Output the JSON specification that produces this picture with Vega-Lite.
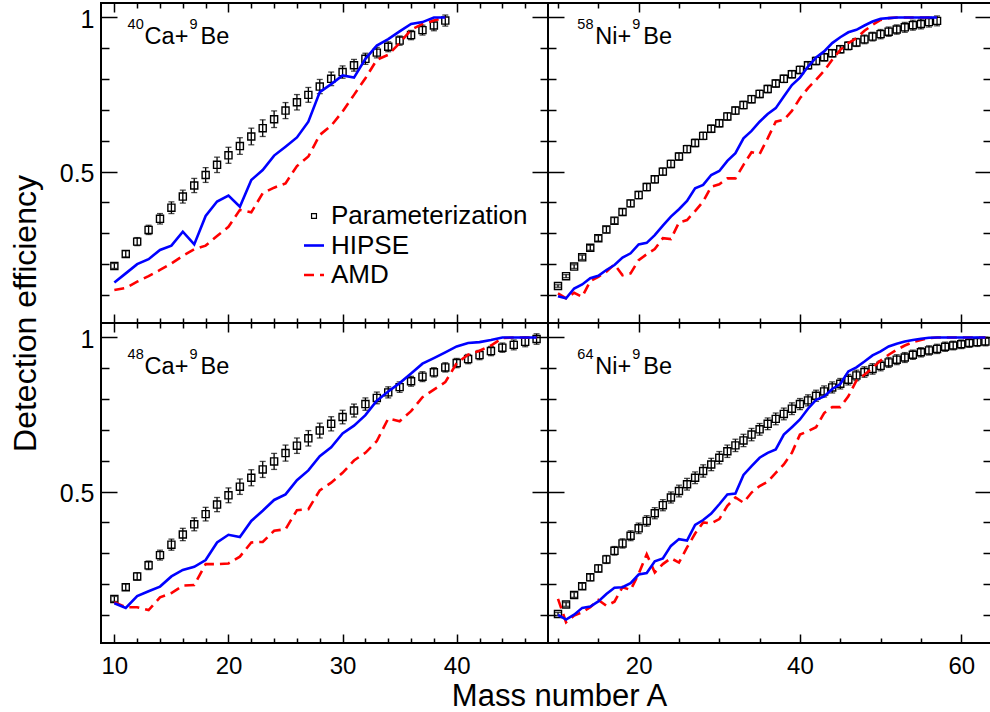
{
  "$schema": "https://vega.github.io/schema/vega-lite/v6.json",
  "background": "white",
  "padding": {"left": 8, "top": 1, "right": 0, "bottom": 0},
  "spacing": 0,
  "bounds": "flush",
  "columns": 2,
  "config": {
    "view": {"stroke": "black", "strokeWidth": 2},
    "axis": {"domain": false, "grid": false, "tickColor": "black", "tickWidth": 1.5, "labelFont": "Liberation Sans", "labelColor": "black", "titleFont": "Liberation Sans", "titleColor": "black", "titleFontWeight": "normal", "labelFlush": false, "labelOverlap": false},
    "legend": {"orient": "none", "padding": 0, "labelFont": "Liberation Sans", "labelFontSize": 26, "labelColor": "black", "labelLimit": 400, "labelOffset": 4, "direction": "vertical"},
    "text": {"font": "Liberation Sans", "color": "black", "align": "left", "baseline": "alphabetic"}
  },
  "datasets": {
    "P40": [
      {"A":10,"eff":0.194,"err":0.008},{"A":11,"eff":0.233,"err":0.010},{"A":12,"eff":0.273,"err":0.013},{"A":13,"eff":0.311,"err":0.015},{"A":14,"eff":0.347,"err":0.017},
      {"A":15,"eff":0.383,"err":0.019},{"A":16,"eff":0.419,"err":0.021},{"A":17,"eff":0.455,"err":0.023},{"A":18,"eff":0.489,"err":0.024},{"A":19,"eff":0.522,"err":0.025},
      {"A":20,"eff":0.553,"err":0.026},{"A":21,"eff":0.583,"err":0.027},{"A":22,"eff":0.614,"err":0.027},{"A":23,"eff":0.641,"err":0.027},{"A":24,"eff":0.670,"err":0.027},
      {"A":25,"eff":0.698,"err":0.026},{"A":26,"eff":0.725,"err":0.025},{"A":27,"eff":0.749,"err":0.024},{"A":28,"eff":0.776,"err":0.023},{"A":29,"eff":0.801,"err":0.022},
      {"A":30,"eff":0.823,"err":0.020},{"A":31,"eff":0.845,"err":0.019},{"A":32,"eff":0.866,"err":0.018},{"A":33,"eff":0.886,"err":0.017},{"A":34,"eff":0.905,"err":0.016},
      {"A":35,"eff":0.925,"err":0.015},{"A":36,"eff":0.943,"err":0.015},{"A":37,"eff":0.959,"err":0.016},{"A":38,"eff":0.974,"err":0.017},{"A":39,"eff":0.990,"err":0.018}
    ],
    "L40": [
      {"A":10,"HIPSE":0.140,"AMD":0.116},{"A":11,"HIPSE":0.170,"AMD":0.123},{"A":12,"HIPSE":0.200,"AMD":0.143},{"A":13,"HIPSE":0.216,"AMD":0.161},{"A":14,"HIPSE":0.246,"AMD":0.181},
      {"A":15,"HIPSE":0.260,"AMD":0.202},{"A":16,"HIPSE":0.305,"AMD":0.227},{"A":17,"HIPSE":0.264,"AMD":0.248},{"A":18,"HIPSE":0.356,"AMD":0.260},{"A":19,"HIPSE":0.403,"AMD":0.291},
      {"A":20,"HIPSE":0.422,"AMD":0.321},{"A":21,"HIPSE":0.386,"AMD":0.376},{"A":22,"HIPSE":0.473,"AMD":0.368},{"A":23,"HIPSE":0.505,"AMD":0.430},{"A":24,"HIPSE":0.552,"AMD":0.448},
      {"A":25,"HIPSE":0.581,"AMD":0.462},{"A":26,"HIPSE":0.611,"AMD":0.518},{"A":27,"HIPSE":0.662,"AMD":0.549},{"A":28,"HIPSE":0.758,"AMD":0.619},{"A":29,"HIPSE":0.784,"AMD":0.649},
      {"A":30,"HIPSE":0.812,"AMD":0.695},{"A":31,"HIPSE":0.805,"AMD":0.749},{"A":32,"HIPSE":0.866,"AMD":0.803},{"A":33,"HIPSE":0.909,"AMD":0.863},{"A":34,"HIPSE":0.930,"AMD":0.879},
      {"A":35,"HIPSE":0.955,"AMD":0.917},{"A":36,"HIPSE":0.979,"AMD":0.960},{"A":37,"HIPSE":0.985,"AMD":0.979},{"A":38,"HIPSE":1.0,"AMD":0.990},{"A":39,"HIPSE":1.0,"AMD":1.0}
    ],
    "P58": [
      {"A":10,"eff":0.129,"err":0.004},{"A":11,"eff":0.161,"err":0.005},{"A":12,"eff":0.192,"err":0.006},{"A":13,"eff":0.222,"err":0.007},{"A":14,"eff":0.253,"err":0.008},
      {"A":15,"eff":0.284,"err":0.009},{"A":16,"eff":0.312,"err":0.010},{"A":17,"eff":0.341,"err":0.010},{"A":18,"eff":0.369,"err":0.011},{"A":19,"eff":0.397,"err":0.011},
      {"A":20,"eff":0.424,"err":0.012},{"A":21,"eff":0.450,"err":0.012},{"A":22,"eff":0.475,"err":0.012},{"A":23,"eff":0.500,"err":0.012},{"A":24,"eff":0.525,"err":0.012},
      {"A":25,"eff":0.549,"err":0.012},{"A":26,"eff":0.573,"err":0.012},{"A":27,"eff":0.593,"err":0.012},{"A":28,"eff":0.616,"err":0.012},{"A":29,"eff":0.639,"err":0.012},
      {"A":30,"eff":0.657,"err":0.012},{"A":31,"eff":0.679,"err":0.012},{"A":32,"eff":0.698,"err":0.012},{"A":33,"eff":0.716,"err":0.012},{"A":34,"eff":0.735,"err":0.012},
      {"A":35,"eff":0.752,"err":0.012},{"A":36,"eff":0.768,"err":0.012},{"A":37,"eff":0.786,"err":0.012},{"A":38,"eff":0.801,"err":0.012},{"A":39,"eff":0.816,"err":0.012},
      {"A":40,"eff":0.830,"err":0.012},{"A":41,"eff":0.845,"err":0.012},{"A":42,"eff":0.859,"err":0.012},{"A":43,"eff":0.871,"err":0.012},{"A":44,"eff":0.884,"err":0.012},
      {"A":45,"eff":0.897,"err":0.012},{"A":46,"eff":0.908,"err":0.013},{"A":47,"eff":0.919,"err":0.013},{"A":48,"eff":0.929,"err":0.014},{"A":49,"eff":0.938,"err":0.014},
      {"A":50,"eff":0.946,"err":0.015},{"A":51,"eff":0.954,"err":0.015},{"A":52,"eff":0.961,"err":0.015},{"A":53,"eff":0.968,"err":0.016},{"A":54,"eff":0.975,"err":0.016},
      {"A":55,"eff":0.979,"err":0.016},{"A":56,"eff":0.985,"err":0.016},{"A":57,"eff":0.989,"err":0.016}
    ],
    "L58": [
      {"A":10,"HIPSE":0.096,"AMD":0.105},{"A":11,"HIPSE":0.089,"AMD":0.089},{"A":12,"HIPSE":0.121,"AMD":0.107},{"A":13,"HIPSE":0.134,"AMD":0.094},{"A":14,"HIPSE":0.154,"AMD":0.145},
      {"A":15,"HIPSE":0.162,"AMD":0.159},{"A":16,"HIPSE":0.181,"AMD":0.175},{"A":17,"HIPSE":0.197,"AMD":0.199},{"A":18,"HIPSE":0.221,"AMD":0.164},{"A":19,"HIPSE":0.235,"AMD":0.170},
      {"A":20,"HIPSE":0.264,"AMD":0.213},{"A":21,"HIPSE":0.269,"AMD":0.232},{"A":22,"HIPSE":0.294,"AMD":0.249},{"A":23,"HIPSE":0.325,"AMD":0.284},{"A":24,"HIPSE":0.354,"AMD":0.281},
      {"A":25,"HIPSE":0.378,"AMD":0.335},{"A":26,"HIPSE":0.405,"AMD":0.343},{"A":27,"HIPSE":0.446,"AMD":0.372},{"A":28,"HIPSE":0.457,"AMD":0.403},{"A":29,"HIPSE":0.489,"AMD":0.451},
      {"A":30,"HIPSE":0.502,"AMD":0.459},{"A":31,"HIPSE":0.535,"AMD":0.478},{"A":32,"HIPSE":0.560,"AMD":0.478},{"A":33,"HIPSE":0.608,"AMD":0.522},{"A":34,"HIPSE":0.632,"AMD":0.563},
      {"A":35,"HIPSE":0.662,"AMD":0.557},{"A":36,"HIPSE":0.687,"AMD":0.608},{"A":37,"HIPSE":0.706,"AMD":0.662},{"A":38,"HIPSE":0.744,"AMD":0.668},{"A":39,"HIPSE":0.781,"AMD":0.697},
      {"A":40,"HIPSE":0.805,"AMD":0.738},{"A":41,"HIPSE":0.841,"AMD":0.771},{"A":42,"HIPSE":0.870,"AMD":0.798},{"A":43,"HIPSE":0.890,"AMD":0.827},{"A":44,"HIPSE":0.917,"AMD":0.863},
      {"A":45,"HIPSE":0.936,"AMD":0.895},{"A":46,"HIPSE":0.952,"AMD":0.917},{"A":47,"HIPSE":0.960,"AMD":0.933},{"A":48,"HIPSE":0.974,"AMD":0.957},{"A":49,"HIPSE":0.987,"AMD":0.976},
      {"A":50,"HIPSE":0.996,"AMD":0.992},{"A":51,"HIPSE":0.998,"AMD":0.998},{"A":52,"HIPSE":1.0,"AMD":1.0},{"A":53,"HIPSE":1.0,"AMD":1.0},{"A":54,"HIPSE":1.0,"AMD":1.0},
      {"A":55,"HIPSE":1.0,"AMD":1.0},{"A":56,"HIPSE":1.0,"AMD":1.0},{"A":57,"HIPSE":1.0,"AMD":1.0}
    ],
    "P48": [
      {"A":10,"eff":0.152,"err":0.008},{"A":11,"eff":0.190,"err":0.010},{"A":12,"eff":0.225,"err":0.012},{"A":13,"eff":0.261,"err":0.014},{"A":14,"eff":0.294,"err":0.016},
      {"A":15,"eff":0.328,"err":0.018},{"A":16,"eff":0.361,"err":0.020},{"A":17,"eff":0.394,"err":0.021},{"A":18,"eff":0.427,"err":0.022},{"A":19,"eff":0.458,"err":0.023},
      {"A":20,"eff":0.488,"err":0.024},{"A":21,"eff":0.516,"err":0.025},{"A":22,"eff":0.545,"err":0.026},{"A":23,"eff":0.572,"err":0.026},{"A":24,"eff":0.598,"err":0.026},
      {"A":25,"eff":0.625,"err":0.026},{"A":26,"eff":0.649,"err":0.025},{"A":27,"eff":0.673,"err":0.025},{"A":28,"eff":0.698,"err":0.024},{"A":29,"eff":0.720,"err":0.023},
      {"A":30,"eff":0.742,"err":0.022},{"A":31,"eff":0.763,"err":0.021},{"A":32,"eff":0.784,"err":0.020},{"A":33,"eff":0.804,"err":0.019},{"A":34,"eff":0.822,"err":0.018},
      {"A":35,"eff":0.839,"err":0.017},{"A":36,"eff":0.858,"err":0.016},{"A":37,"eff":0.873,"err":0.016},{"A":38,"eff":0.887,"err":0.015},{"A":39,"eff":0.903,"err":0.015},
      {"A":40,"eff":0.917,"err":0.015},{"A":41,"eff":0.930,"err":0.015},{"A":42,"eff":0.943,"err":0.015},{"A":43,"eff":0.956,"err":0.015},{"A":44,"eff":0.967,"err":0.015},
      {"A":45,"eff":0.976,"err":0.016},{"A":46,"eff":0.986,"err":0.016},{"A":47,"eff":0.995,"err":0.017}
    ],
    "L48": [
      {"A":10,"HIPSE":0.138,"AMD":0.141},{"A":11,"HIPSE":0.123,"AMD":0.125},{"A":12,"HIPSE":0.161,"AMD":0.125},{"A":13,"HIPSE":0.177,"AMD":0.116},{"A":14,"HIPSE":0.192,"AMD":0.157},
      {"A":15,"HIPSE":0.225,"AMD":0.171},{"A":16,"HIPSE":0.246,"AMD":0.195},{"A":17,"HIPSE":0.256,"AMD":0.197},{"A":18,"HIPSE":0.278,"AMD":0.265},{"A":19,"HIPSE":0.335,"AMD":0.265},
      {"A":20,"HIPSE":0.360,"AMD":0.267},{"A":21,"HIPSE":0.353,"AMD":0.289},{"A":22,"HIPSE":0.405,"AMD":0.335},{"A":23,"HIPSE":0.438,"AMD":0.337},{"A":24,"HIPSE":0.473,"AMD":0.373},
      {"A":25,"HIPSE":0.491,"AMD":0.378},{"A":26,"HIPSE":0.537,"AMD":0.440},{"A":27,"HIPSE":0.569,"AMD":0.443},{"A":28,"HIPSE":0.615,"AMD":0.504},{"A":29,"HIPSE":0.644,"AMD":0.529},
      {"A":30,"HIPSE":0.689,"AMD":0.561},{"A":31,"HIPSE":0.714,"AMD":0.601},{"A":32,"HIPSE":0.748,"AMD":0.626},{"A":33,"HIPSE":0.795,"AMD":0.664},{"A":34,"HIPSE":0.825,"AMD":0.737},
      {"A":35,"HIPSE":0.852,"AMD":0.728},{"A":36,"HIPSE":0.883,"AMD":0.761},{"A":37,"HIPSE":0.915,"AMD":0.806},{"A":38,"HIPSE":0.933,"AMD":0.831},{"A":39,"HIPSE":0.952,"AMD":0.855},
      {"A":40,"HIPSE":0.971,"AMD":0.917},{"A":41,"HIPSE":0.982,"AMD":0.944},{"A":42,"HIPSE":0.985,"AMD":0.957},{"A":43,"HIPSE":0.992,"AMD":0.974},{"A":44,"HIPSE":1.0,"AMD":0.998},
      {"A":45,"HIPSE":1.0,"AMD":1.0},{"A":46,"HIPSE":1.0,"AMD":1.0},{"A":47,"HIPSE":1.0,"AMD":1.0}
    ],
    "P64": [
      {"A":10,"eff":0.103,"err":0.005},{"A":11,"eff":0.134,"err":0.006},{"A":12,"eff":0.165,"err":0.008},{"A":13,"eff":0.193,"err":0.010},{"A":14,"eff":0.222,"err":0.011},
      {"A":15,"eff":0.251,"err":0.012},{"A":16,"eff":0.280,"err":0.013},{"A":17,"eff":0.308,"err":0.014},{"A":18,"eff":0.332,"err":0.015},{"A":19,"eff":0.357,"err":0.016},
      {"A":20,"eff":0.381,"err":0.017},{"A":21,"eff":0.405,"err":0.017},{"A":22,"eff":0.430,"err":0.018},{"A":23,"eff":0.456,"err":0.018},{"A":24,"eff":0.481,"err":0.018},
      {"A":25,"eff":0.502,"err":0.019},{"A":26,"eff":0.524,"err":0.019},{"A":27,"eff":0.545,"err":0.019},{"A":28,"eff":0.567,"err":0.020},{"A":29,"eff":0.588,"err":0.020},
      {"A":30,"eff":0.610,"err":0.020},{"A":31,"eff":0.631,"err":0.020},{"A":32,"eff":0.650,"err":0.020},{"A":33,"eff":0.666,"err":0.020},{"A":34,"eff":0.685,"err":0.020},
      {"A":35,"eff":0.702,"err":0.019},{"A":36,"eff":0.720,"err":0.019},{"A":37,"eff":0.736,"err":0.019},{"A":38,"eff":0.752,"err":0.019},{"A":39,"eff":0.769,"err":0.019},
      {"A":40,"eff":0.784,"err":0.018},{"A":41,"eff":0.796,"err":0.018},{"A":42,"eff":0.811,"err":0.018},{"A":43,"eff":0.825,"err":0.018},{"A":44,"eff":0.838,"err":0.018},
      {"A":45,"eff":0.850,"err":0.017},{"A":46,"eff":0.863,"err":0.017},{"A":47,"eff":0.877,"err":0.017},{"A":48,"eff":0.888,"err":0.017},{"A":49,"eff":0.898,"err":0.017},
      {"A":50,"eff":0.908,"err":0.016},{"A":51,"eff":0.919,"err":0.016},{"A":52,"eff":0.928,"err":0.016},{"A":53,"eff":0.935,"err":0.016},{"A":54,"eff":0.944,"err":0.015},
      {"A":55,"eff":0.952,"err":0.015},{"A":56,"eff":0.958,"err":0.015},{"A":57,"eff":0.963,"err":0.015},{"A":58,"eff":0.970,"err":0.015},{"A":59,"eff":0.974,"err":0.014},
      {"A":60,"eff":0.978,"err":0.014},{"A":61,"eff":0.982,"err":0.014},{"A":62,"eff":0.985,"err":0.014},{"A":63,"eff":0.987,"err":0.014}
    ],
    "L64": [
      {"A":10,"HIPSE":0.100,"AMD":0.152},{"A":11,"HIPSE":0.085,"AMD":0.076},{"A":12,"HIPSE":0.101,"AMD":0.098},{"A":13,"HIPSE":0.123,"AMD":0.109},{"A":14,"HIPSE":0.127,"AMD":0.125},
      {"A":15,"HIPSE":0.144,"AMD":0.149},{"A":16,"HIPSE":0.168,"AMD":0.130},{"A":17,"HIPSE":0.188,"AMD":0.143},{"A":18,"HIPSE":0.190,"AMD":0.190},{"A":19,"HIPSE":0.203,"AMD":0.181},
      {"A":20,"HIPSE":0.231,"AMD":0.233},{"A":21,"HIPSE":0.236,"AMD":0.297},{"A":22,"HIPSE":0.274,"AMD":0.238},{"A":23,"HIPSE":0.283,"AMD":0.265},{"A":24,"HIPSE":0.324,"AMD":0.284},
      {"A":25,"HIPSE":0.346,"AMD":0.270},{"A":26,"HIPSE":0.341,"AMD":0.319},{"A":27,"HIPSE":0.392,"AMD":0.364},{"A":28,"HIPSE":0.408,"AMD":0.400},{"A":29,"HIPSE":0.429,"AMD":0.397},
      {"A":30,"HIPSE":0.459,"AMD":0.411},{"A":31,"HIPSE":0.491,"AMD":0.454},{"A":32,"HIPSE":0.494,"AMD":0.481},{"A":33,"HIPSE":0.554,"AMD":0.464},{"A":34,"HIPSE":0.583,"AMD":0.497},
      {"A":35,"HIPSE":0.610,"AMD":0.518},{"A":36,"HIPSE":0.626,"AMD":0.532},{"A":37,"HIPSE":0.637,"AMD":0.561},{"A":38,"HIPSE":0.685,"AMD":0.588},{"A":39,"HIPSE":0.709,"AMD":0.626},
      {"A":40,"HIPSE":0.734,"AMD":0.685},{"A":41,"HIPSE":0.769,"AMD":0.696},{"A":42,"HIPSE":0.798,"AMD":0.709},{"A":43,"HIPSE":0.809,"AMD":0.755},{"A":44,"HIPSE":0.833,"AMD":0.774},
      {"A":45,"HIPSE":0.849,"AMD":0.774},{"A":46,"HIPSE":0.890,"AMD":0.809},{"A":47,"HIPSE":0.903,"AMD":0.860},{"A":48,"HIPSE":0.922,"AMD":0.879},{"A":49,"HIPSE":0.942,"AMD":0.901},
      {"A":50,"HIPSE":0.955,"AMD":0.925},{"A":51,"HIPSE":0.971,"AMD":0.944},{"A":52,"HIPSE":0.980,"AMD":0.960},{"A":53,"HIPSE":0.987,"AMD":0.974},{"A":54,"HIPSE":0.992,"AMD":0.985},
      {"A":55,"HIPSE":0.996,"AMD":0.992},{"A":56,"HIPSE":0.999,"AMD":0.998},{"A":57,"HIPSE":1.0,"AMD":1.0},{"A":58,"HIPSE":1.0,"AMD":1.0},{"A":59,"HIPSE":1.0,"AMD":1.0},
      {"A":60,"HIPSE":1.0,"AMD":1.0},{"A":61,"HIPSE":1.0,"AMD":1.0},{"A":62,"HIPSE":1.0,"AMD":1.0},{"A":63,"HIPSE":1.0,"AMD":1.0}
    ]
  },
  "concat": [
    {
      "width": 447, "height": 320,
      "resolve": {"axis": {"x": "independent", "y": "independent"}},
      "layer": [
        {"data": {"name": "P40"}, "mark": {"type": "errorbar", "color": "black", "ticks": true, "size": 6, "thickness": 1.3},
         "encoding": {"x": {"field": "A", "type": "quantitative", "scale": {"domain": [8.83, 48], "nice": false, "zero": false}, "axis": null},
                      "y": {"field": "eff", "type": "quantitative", "scale": {"domain": [0.009, 1.047], "nice": false, "zero": false}, "axis": null},
                      "yError": {"field": "err"}}},
        {"data": {"name": "P40"}, "mark": {"type": "point", "shape": "square", "filled": false, "size": 50, "strokeWidth": 1.4, "opacity": 1, "color": "black"},
         "encoding": {"x": {"field": "A", "type": "quantitative", "scale": {"domain": [8.83, 48], "nice": false, "zero": false}, "axis": {"orient": "top", "values": [10, 20, 30, 40], "tickSize": -9, "labels": false, "title": null}},
                      "y": {"field": "eff", "type": "quantitative", "scale": {"domain": [0.009, 1.047], "nice": false, "zero": false}, "axis": {"orient": "right", "values": [0.5, 1], "tickSize": -16, "labels": false, "title": null}},
                      "shape": {"datum": "Parameterization", "type": "nominal", "scale": {"domain": ["Parameterization"], "range": ["square"]},
                                "legend": {"orient": "none", "legendX": 200, "legendY": 200, "title": null, "symbolSize": 24, "symbolStrokeWidth": 1.2, "symbolStrokeColor": "black", "symbolFillColor": "transparent"}}}},
        {"data": {"name": "P40"}, "mark": {"type": "point", "opacity": 0},
         "encoding": {"x": {"field": "A", "type": "quantitative", "scale": {"domain": [8.83, 48], "nice": false, "zero": false}, "axis": {"orient": "top", "values": [12, 14, 16, 18, 22, 24, 26, 28, 32, 34, 36, 38, 42, 44, 46], "tickSize": -5, "labels": false, "title": null}},
                      "y": {"field": "eff", "type": "quantitative", "scale": {"domain": [0.009, 1.047], "nice": false, "zero": false}, "axis": {"orient": "right", "values": [0.1, 0.2, 0.3, 0.4, 0.6, 0.7, 0.8, 0.9], "tickSize": -8, "labels": false, "title": null}}}},
        {"data": {"name": "L40"}, "mark": {"type": "line", "color": "#ff0000", "strokeWidth": 2.6},
         "encoding": {"x": {"field": "A", "type": "quantitative", "scale": {"domain": [8.83, 48], "nice": false, "zero": false}, "axis": {"orient": "bottom", "values": [10, 20, 30, 40], "tickSize": -9, "labels": false, "title": null}},
                      "y": {"field": "AMD", "type": "quantitative", "scale": {"domain": [0.009, 1.047], "nice": false, "zero": false},
                            "axis": {"orient": "left", "values": [0.5, 1], "tickSize": -16, "format": "~g", "labelFontSize": 25, "labelPadding": 23, "labelOffset": 2,
                                     "title": "Detection efficiency", "titleFontSize": 32, "titleX": -66, "titleY": 310, "titleAngle": 270, "titleAlign": "center", "titleBaseline": "alphabetic"}},
                      "strokeDash": {"datum": "AMD", "type": "nominal", "scale": {"domain": ["AMD"], "range": [[10, 6]]},
                                     "legend": {"orient": "none", "legendX": 200, "legendY": 259, "title": null, "symbolType": "stroke", "symbolSize": 400, "symbolStrokeWidth": 2.6, "symbolStrokeColor": "#ff0000"}}}},
        {"data": {"name": "L40"}, "mark": {"type": "line", "color": "#0000ff", "strokeWidth": 2.6},
         "encoding": {"x": {"field": "A", "type": "quantitative", "scale": {"domain": [8.83, 48], "nice": false, "zero": false}, "axis": {"orient": "bottom", "values": [12, 14, 16, 18, 22, 24, 26, 28, 32, 34, 36, 38, 42, 44, 46], "tickSize": -5, "labels": false, "title": null}},
                      "y": {"field": "HIPSE", "type": "quantitative", "scale": {"domain": [0.009, 1.047], "nice": false, "zero": false}, "axis": {"orient": "left", "values": [0.1, 0.2, 0.3, 0.4, 0.6, 0.7, 0.8, 0.9], "tickSize": -8, "labels": false, "title": null}},
                      "color": {"datum": "HIPSE", "type": "nominal", "scale": {"domain": ["HIPSE"], "range": ["#0000ff"]},
                                "legend": {"orient": "none", "legendX": 200, "legendY": 229.5, "title": null, "symbolType": "stroke", "symbolSize": 400, "symbolStrokeWidth": 2.6}}}},
        {"data": {"values": [{}]}, "mark": {"type": "text", "fontSize": 14.5, "dx": 0, "dy": -15.5},
         "encoding": {"x": {"datum": 11.16, "type": "quantitative", "axis": null}, "y": {"datum": 0.914, "type": "quantitative", "axis": null}, "text": {"value": "40"}}},
        {"data": {"values": [{}]}, "mark": {"type": "text", "fontSize": 23.5, "dx": 17},
         "encoding": {"x": {"datum": 11.16, "type": "quantitative", "axis": null}, "y": {"datum": 0.914, "type": "quantitative", "axis": null}, "text": {"value": "Ca+"}}},
        {"data": {"values": [{}]}, "mark": {"type": "text", "fontSize": 14.5, "dx": 62, "dy": -15.5},
         "encoding": {"x": {"datum": 11.16, "type": "quantitative", "axis": null}, "y": {"datum": 0.914, "type": "quantitative", "axis": null}, "text": {"value": "9"}}},
        {"data": {"values": [{}]}, "mark": {"type": "text", "fontSize": 23.5, "dx": 73},
         "encoding": {"x": {"datum": 11.16, "type": "quantitative", "axis": null}, "y": {"datum": 0.914, "type": "quantitative", "axis": null}, "text": {"value": "Be"}}}
      ]
    },
    {
      "width": 443, "height": 320,
      "resolve": {"axis": {"x": "independent", "y": "independent"}},
      "layer": [
        {"data": {"name": "P58"}, "mark": {"type": "errorbar", "color": "black", "ticks": true, "size": 6, "thickness": 1.3},
         "encoding": {"x": {"field": "A", "type": "quantitative", "scale": {"domain": [8.76, 63.69], "nice": false, "zero": false}, "axis": null},
                      "y": {"field": "eff", "type": "quantitative", "scale": {"domain": [0.009, 1.047], "nice": false, "zero": false}, "axis": null},
                      "yError": {"field": "err"}}},
        {"data": {"name": "P58"}, "mark": {"type": "point", "shape": "square", "filled": false, "size": 50, "strokeWidth": 1.4, "opacity": 1, "color": "black"},
         "encoding": {"x": {"field": "A", "type": "quantitative", "scale": {"domain": [8.76, 63.69], "nice": false, "zero": false}, "axis": {"orient": "top", "values": [20, 40, 60], "tickSize": -9, "labels": false, "title": null}},
                      "y": {"field": "eff", "type": "quantitative", "scale": {"domain": [0.009, 1.047], "nice": false, "zero": false}, "axis": {"orient": "right", "values": [0.5, 1], "tickSize": -16, "labels": false, "title": null}}}},
        {"data": {"name": "P58"}, "mark": {"type": "point", "opacity": 0},
         "encoding": {"x": {"field": "A", "type": "quantitative", "scale": {"domain": [8.76, 63.69], "nice": false, "zero": false}, "axis": {"orient": "top", "values": [10, 15, 25, 30, 35, 45, 50, 55], "tickSize": -5, "labels": false, "title": null}},
                      "y": {"field": "eff", "type": "quantitative", "scale": {"domain": [0.009, 1.047], "nice": false, "zero": false}, "axis": {"orient": "right", "values": [0.1, 0.2, 0.3, 0.4, 0.6, 0.7, 0.8, 0.9], "tickSize": -8, "labels": false, "title": null}}}},
        {"data": {"name": "L58"}, "mark": {"type": "line", "color": "#ff0000", "strokeWidth": 2.6, "strokeDash": [10, 6]},
         "encoding": {"x": {"field": "A", "type": "quantitative", "scale": {"domain": [8.76, 63.69], "nice": false, "zero": false}, "axis": {"orient": "bottom", "values": [20, 40, 60], "tickSize": -9, "labels": false, "title": null}},
                      "y": {"field": "AMD", "type": "quantitative", "scale": {"domain": [0.009, 1.047], "nice": false, "zero": false}, "axis": {"orient": "left", "values": [0.5, 1], "tickSize": -16, "labels": false, "title": null}}}},
        {"data": {"name": "L58"}, "mark": {"type": "line", "color": "#0000ff", "strokeWidth": 2.6},
         "encoding": {"x": {"field": "A", "type": "quantitative", "scale": {"domain": [8.76, 63.69], "nice": false, "zero": false}, "axis": {"orient": "bottom", "values": [10, 15, 25, 30, 35, 45, 50, 55], "tickSize": -5, "labels": false, "title": null}},
                      "y": {"field": "HIPSE", "type": "quantitative", "scale": {"domain": [0.009, 1.047], "nice": false, "zero": false}, "axis": {"orient": "left", "values": [0.1, 0.2, 0.3, 0.4, 0.6, 0.7, 0.8, 0.9], "tickSize": -8, "labels": false, "title": null}}}},
        {"data": {"values": [{}]}, "mark": {"type": "text", "fontSize": 14.5, "dx": 0, "dy": -15.5},
         "encoding": {"x": {"datum": 12.4, "type": "quantitative", "axis": null}, "y": {"datum": 0.914, "type": "quantitative", "axis": null}, "text": {"value": "58"}}},
        {"data": {"values": [{}]}, "mark": {"type": "text", "fontSize": 23.5, "dx": 18},
         "encoding": {"x": {"datum": 12.4, "type": "quantitative", "axis": null}, "y": {"datum": 0.914, "type": "quantitative", "axis": null}, "text": {"value": "Ni+"}}},
        {"data": {"values": [{}]}, "mark": {"type": "text", "fontSize": 14.5, "dx": 55, "dy": -15.5},
         "encoding": {"x": {"datum": 12.4, "type": "quantitative", "axis": null}, "y": {"datum": 0.914, "type": "quantitative", "axis": null}, "text": {"value": "9"}}},
        {"data": {"values": [{}]}, "mark": {"type": "text", "fontSize": 23.5, "dx": 66},
         "encoding": {"x": {"datum": 12.4, "type": "quantitative", "axis": null}, "y": {"datum": 0.914, "type": "quantitative", "axis": null}, "text": {"value": "Be"}}}
      ]
    },
    {
      "width": 447, "height": 320,
      "resolve": {"axis": {"x": "independent", "y": "independent"}},
      "layer": [
        {"data": {"name": "P48"}, "mark": {"type": "errorbar", "color": "black", "ticks": true, "size": 6, "thickness": 1.3},
         "encoding": {"x": {"field": "A", "type": "quantitative", "scale": {"domain": [8.83, 48], "nice": false, "zero": false}, "axis": null},
                      "y": {"field": "eff", "type": "quantitative", "scale": {"domain": [0.009, 1.047], "nice": false, "zero": false}, "axis": null},
                      "yError": {"field": "err"}}},
        {"data": {"name": "P48"}, "mark": {"type": "point", "shape": "square", "filled": false, "size": 50, "strokeWidth": 1.4, "opacity": 1, "color": "black"},
         "encoding": {"x": {"field": "A", "type": "quantitative", "scale": {"domain": [8.83, 48], "nice": false, "zero": false}, "axis": {"orient": "top", "values": [10, 20, 30, 40], "tickSize": -9, "labels": false, "title": null}},
                      "y": {"field": "eff", "type": "quantitative", "scale": {"domain": [0.009, 1.047], "nice": false, "zero": false}, "axis": {"orient": "right", "values": [0.5, 1], "tickSize": -16, "labels": false, "title": null}}}},
        {"data": {"name": "P48"}, "mark": {"type": "point", "opacity": 0},
         "encoding": {"x": {"field": "A", "type": "quantitative", "scale": {"domain": [8.83, 48], "nice": false, "zero": false}, "axis": {"orient": "top", "values": [12, 14, 16, 18, 22, 24, 26, 28, 32, 34, 36, 38, 42, 44, 46], "tickSize": -5, "labels": false, "title": null}},
                      "y": {"field": "eff", "type": "quantitative", "scale": {"domain": [0.009, 1.047], "nice": false, "zero": false}, "axis": {"orient": "right", "values": [0.1, 0.2, 0.3, 0.4, 0.6, 0.7, 0.8, 0.9], "tickSize": -8, "labels": false, "title": null}}}},
        {"data": {"name": "L48"}, "mark": {"type": "line", "color": "#ff0000", "strokeWidth": 2.6, "strokeDash": [10, 6]},
         "encoding": {"x": {"field": "A", "type": "quantitative", "scale": {"domain": [8.83, 48], "nice": false, "zero": false},
                            "axis": {"orient": "bottom", "values": [10, 20, 30, 40], "tickSize": -9, "labelFontSize": 24, "labelPadding": 20, "labelBaseline": "top",
                                     "title": "Mass number A", "titleFontSize": 31, "titleX": 458, "titleY": 62, "titleAlign": "center", "titleBaseline": "alphabetic"}},
                      "y": {"field": "AMD", "type": "quantitative", "scale": {"domain": [0.009, 1.047], "nice": false, "zero": false}, "axis": {"orient": "left", "values": [0.5, 1], "tickSize": -16, "format": "~g", "labelFontSize": 25, "labelPadding": 23, "labelOffset": 2, "title": null}}}},
        {"data": {"name": "L48"}, "mark": {"type": "line", "color": "#0000ff", "strokeWidth": 2.6},
         "encoding": {"x": {"field": "A", "type": "quantitative", "scale": {"domain": [8.83, 48], "nice": false, "zero": false}, "axis": {"orient": "bottom", "values": [12, 14, 16, 18, 22, 24, 26, 28, 32, 34, 36, 38, 42, 44, 46], "tickSize": -5, "labels": false, "title": null}},
                      "y": {"field": "HIPSE", "type": "quantitative", "scale": {"domain": [0.009, 1.047], "nice": false, "zero": false}, "axis": {"orient": "left", "values": [0.1, 0.2, 0.3, 0.4, 0.6, 0.7, 0.8, 0.9], "tickSize": -8, "labels": false, "title": null}}}},
        {"data": {"values": [{}]}, "mark": {"type": "text", "fontSize": 14.5, "dx": 0, "dy": -15.5},
         "encoding": {"x": {"datum": 11.16, "type": "quantitative", "axis": null}, "y": {"datum": 0.881, "type": "quantitative", "axis": null}, "text": {"value": "48"}}},
        {"data": {"values": [{}]}, "mark": {"type": "text", "fontSize": 23.5, "dx": 17},
         "encoding": {"x": {"datum": 11.16, "type": "quantitative", "axis": null}, "y": {"datum": 0.881, "type": "quantitative", "axis": null}, "text": {"value": "Ca+"}}},
        {"data": {"values": [{}]}, "mark": {"type": "text", "fontSize": 14.5, "dx": 62, "dy": -15.5},
         "encoding": {"x": {"datum": 11.16, "type": "quantitative", "axis": null}, "y": {"datum": 0.881, "type": "quantitative", "axis": null}, "text": {"value": "9"}}},
        {"data": {"values": [{}]}, "mark": {"type": "text", "fontSize": 23.5, "dx": 73},
         "encoding": {"x": {"datum": 11.16, "type": "quantitative", "axis": null}, "y": {"datum": 0.881, "type": "quantitative", "axis": null}, "text": {"value": "Be"}}}
      ]
    },
    {
      "width": 443, "height": 320,
      "resolve": {"axis": {"x": "independent", "y": "independent"}},
      "layer": [
        {"data": {"name": "P64"}, "mark": {"type": "errorbar", "color": "black", "ticks": true, "size": 6, "thickness": 1.3},
         "encoding": {"x": {"field": "A", "type": "quantitative", "scale": {"domain": [8.76, 63.69], "nice": false, "zero": false}, "axis": null},
                      "y": {"field": "eff", "type": "quantitative", "scale": {"domain": [0.009, 1.047], "nice": false, "zero": false}, "axis": null},
                      "yError": {"field": "err"}}},
        {"data": {"name": "P64"}, "mark": {"type": "point", "shape": "square", "filled": false, "size": 50, "strokeWidth": 1.4, "opacity": 1, "color": "black"},
         "encoding": {"x": {"field": "A", "type": "quantitative", "scale": {"domain": [8.76, 63.69], "nice": false, "zero": false}, "axis": {"orient": "top", "values": [20, 40, 60], "tickSize": -9, "labels": false, "title": null}},
                      "y": {"field": "eff", "type": "quantitative", "scale": {"domain": [0.009, 1.047], "nice": false, "zero": false}, "axis": {"orient": "right", "values": [0.5, 1], "tickSize": -16, "labels": false, "title": null}}}},
        {"data": {"name": "P64"}, "mark": {"type": "point", "opacity": 0},
         "encoding": {"x": {"field": "A", "type": "quantitative", "scale": {"domain": [8.76, 63.69], "nice": false, "zero": false}, "axis": {"orient": "top", "values": [10, 15, 25, 30, 35, 45, 50, 55], "tickSize": -5, "labels": false, "title": null}},
                      "y": {"field": "eff", "type": "quantitative", "scale": {"domain": [0.009, 1.047], "nice": false, "zero": false}, "axis": {"orient": "right", "values": [0.1, 0.2, 0.3, 0.4, 0.6, 0.7, 0.8, 0.9], "tickSize": -8, "labels": false, "title": null}}}},
        {"data": {"name": "L64"}, "mark": {"type": "line", "color": "#ff0000", "strokeWidth": 2.6, "strokeDash": [10, 6]},
         "encoding": {"x": {"field": "A", "type": "quantitative", "scale": {"domain": [8.76, 63.69], "nice": false, "zero": false}, "axis": {"orient": "bottom", "values": [20, 40, 60], "tickSize": -9, "labelFontSize": 24, "labelPadding": 20, "labelBaseline": "top", "title": null}},
                      "y": {"field": "AMD", "type": "quantitative", "scale": {"domain": [0.009, 1.047], "nice": false, "zero": false}, "axis": {"orient": "left", "values": [0.5, 1], "tickSize": -16, "labels": false, "title": null}}}},
        {"data": {"name": "L64"}, "mark": {"type": "line", "color": "#0000ff", "strokeWidth": 2.6},
         "encoding": {"x": {"field": "A", "type": "quantitative", "scale": {"domain": [8.76, 63.69], "nice": false, "zero": false}, "axis": {"orient": "bottom", "values": [10, 15, 25, 30, 35, 45, 50, 55], "tickSize": -5, "labels": false, "title": null}},
                      "y": {"field": "HIPSE", "type": "quantitative", "scale": {"domain": [0.009, 1.047], "nice": false, "zero": false}, "axis": {"orient": "left", "values": [0.1, 0.2, 0.3, 0.4, 0.6, 0.7, 0.8, 0.9], "tickSize": -8, "labels": false, "title": null}}}},
        {"data": {"values": [{}]}, "mark": {"type": "text", "fontSize": 14.5, "dx": 0, "dy": -15.5},
         "encoding": {"x": {"datum": 12.4, "type": "quantitative", "axis": null}, "y": {"datum": 0.881, "type": "quantitative", "axis": null}, "text": {"value": "64"}}},
        {"data": {"values": [{}]}, "mark": {"type": "text", "fontSize": 23.5, "dx": 18},
         "encoding": {"x": {"datum": 12.4, "type": "quantitative", "axis": null}, "y": {"datum": 0.881, "type": "quantitative", "axis": null}, "text": {"value": "Ni+"}}},
        {"data": {"values": [{}]}, "mark": {"type": "text", "fontSize": 14.5, "dx": 55, "dy": -15.5},
         "encoding": {"x": {"datum": 12.4, "type": "quantitative", "axis": null}, "y": {"datum": 0.881, "type": "quantitative", "axis": null}, "text": {"value": "9"}}},
        {"data": {"values": [{}]}, "mark": {"type": "text", "fontSize": 23.5, "dx": 66},
         "encoding": {"x": {"datum": 12.4, "type": "quantitative", "axis": null}, "y": {"datum": 0.881, "type": "quantitative", "axis": null}, "text": {"value": "Be"}}}
      ]
    }
  ]
}
